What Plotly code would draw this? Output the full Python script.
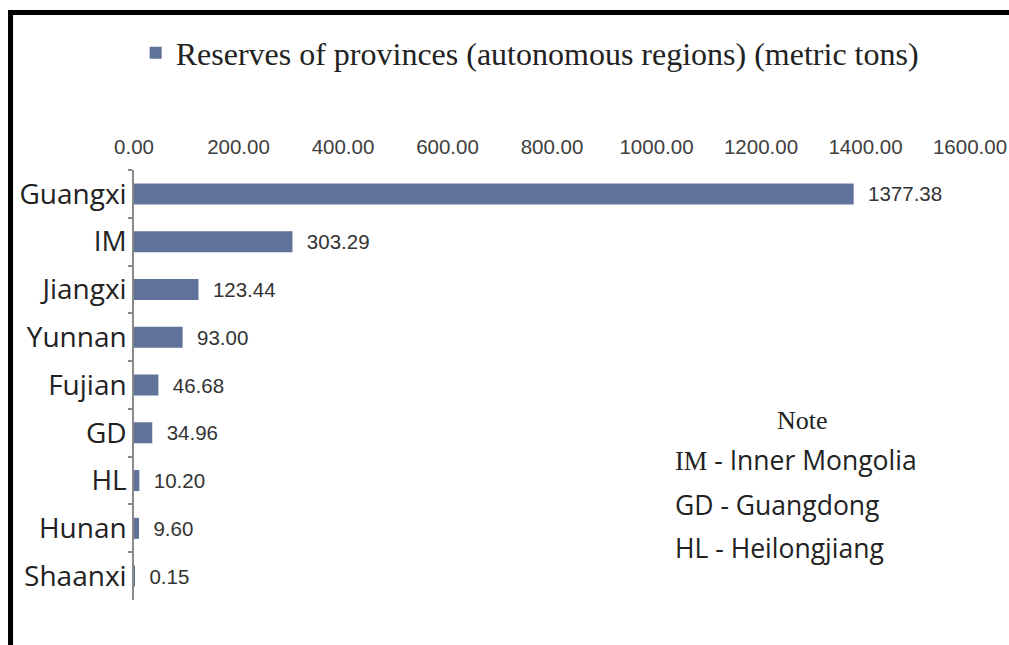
import plotly.graph_objects as go

# Reserves by province (metric tons)
provinces = ["Guangxi", "IM", "Jiangxi", "Yunnan", "Fujian", "GD", "HL", "Hunan", "Shaanxi"]
reserves = [1377.38, 303.29, 123.44, 93.00, 46.68, 34.96, 10.20, 9.60, 0.15]
x_ticks = [0, 200, 400, 600, 800, 1000, 1200, 1400, 1600]

note_title = "Note"
note_lines = [
    '<span style="font-family:\'Liberation Serif\'">IM</span> - Inner Mongolia',
    "GD - Guangdong",
    "HL - Heilongjiang",
]

BAR = "#60729A"
AXIS = "#8a8a8a"

fig = go.Figure()
fig.add_trace(go.Bar(
    x=reserves,
    y=provinces,
    orientation="h",
    width=0.44,
    marker=dict(color=BAR, line=dict(width=0)),
    name="Reserves of provinces (autonomous regions) (metric tons)",
    texttemplate="  %{x:.2f}",
    textposition="outside",
    constraintext="none",
    cliponaxis=False,
    textfont=dict(family="Liberation Sans", size=20.5, color="#333333"),
    showlegend=True,
))

fig.update_layout(
    width=1009,
    height=645,
    margin=dict(l=134, r=39, t=170, b=45, autoexpand=False),
    paper_bgcolor="white",
    plot_bgcolor="white",
    showlegend=True,
    legend=dict(
        x=0.002, xanchor="left",
        y=1.272, yanchor="middle",
        orientation="h",
        font=dict(family="Liberation Serif", size=32, color="#222222"),
        bgcolor="rgba(0,0,0,0)",
    ),
    xaxis=dict(
        side="top",
        range=[0, 1600],
        tickvals=x_ticks,
        tickformat=".2f",
        showgrid=False,
        zeroline=False,
        showline=False,
        ticks="",
        automargin=False,
        ticklabelstandoff=11,
        tickfont=dict(family="Liberation Sans", size=20.5, color="#404040"),
    ),
    yaxis=dict(
        categoryorder="array",
        categoryarray=provinces,
        autorange="reversed",
        showgrid=False,
        zeroline=False,
        showline=True,
        linecolor=AXIS,
        linewidth=1.5,
        ticks="outside",
        tickson="boundaries",
        ticklen=4,
        tickcolor=AXIS,
        tickwidth=1.5,
        automargin=False,
        tickfont=dict(family="Open Sans", size=28, color="#222222"),
    ),
    bargap=0.56,
)

# Note box
fig.add_annotation(
    x=0.800, y=0.4186, xref="paper", yref="paper",
    text=note_title, showarrow=False, xanchor="center", yanchor="middle",
    font=dict(family="Liberation Serif", size=26, color="#222222"),
)
for line, ypos in zip(note_lines, [0.3256, 0.2209, 0.1209]):
    fig.add_annotation(
        x=0.6447, y=ypos, xref="paper", yref="paper",
        text=line, showarrow=False, xanchor="left", yanchor="middle",
        font=dict(family="Open Sans", size=26.5, color="#222222"),
    )

# Frame along the top and left edges
fig.add_shape(type="line", xref="paper", yref="paper",
              x0=-0.1477, x1=1.2, y0=1.3663, y1=1.3663,
              line=dict(color="black", width=5))
fig.add_shape(type="line", xref="paper", yref="paper",
              x0=-0.1477, x1=-0.1477, y0=1.372, y1=-0.2,
              line=dict(color="black", width=5))

fig.write_html("out.html")
